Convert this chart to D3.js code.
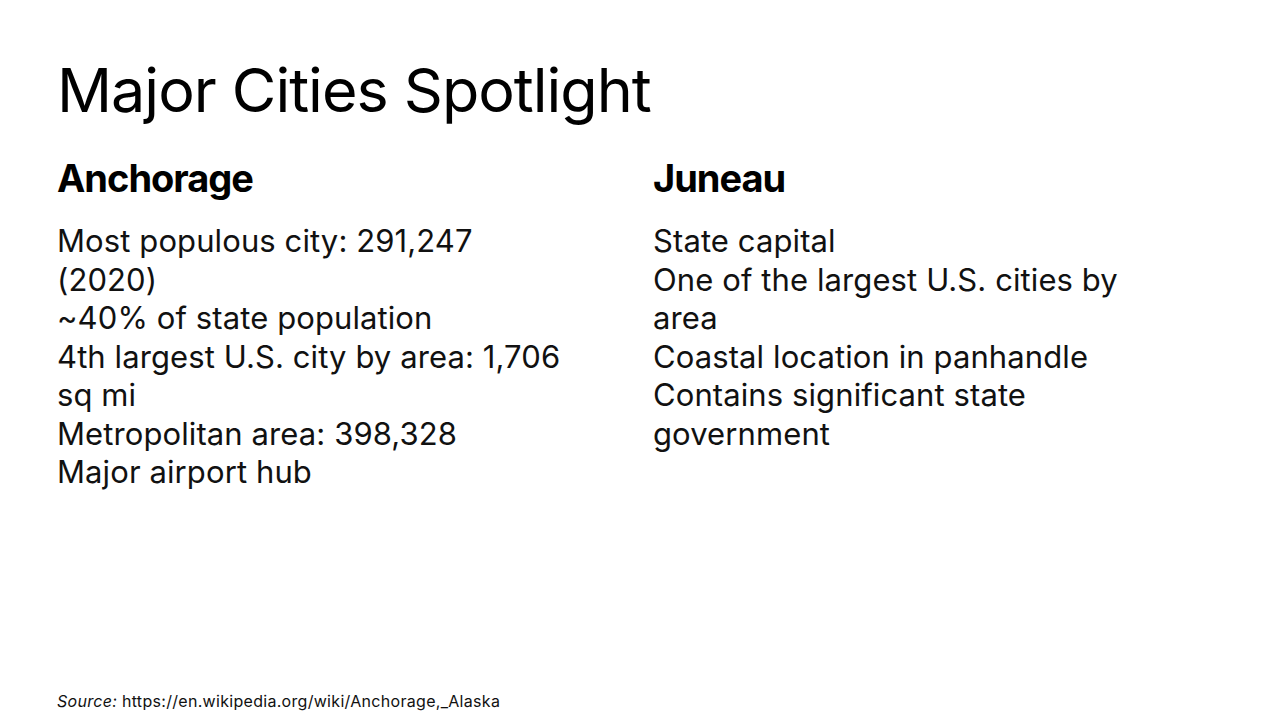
<!DOCTYPE html>
<html><head><meta charset="utf-8">
<script src="https://cdn.jsdelivr.net/npm/d3@7"></script>
<style>body{margin:0;background:#fff}</style></head>
<body><svg id="c" width="1280" height="720"></svg>
<script>
const title = "Major Cities Spotlight";
const headings = ["Anchorage", "Juneau"];
const anchorageLines = ["Most populous city: 291,247", "(2020)", "~40% of state population", "4th largest U.S. city by area: 1,706", "sq mi", "Metropolitan area: 398,328", "Major airport hub"];
const juneauLines = ["State capital", "One of the largest U.S. cities by", "area", "Coastal location in panhandle", "Contains significant state", "government"];
const sourceUrl = "https://en.wikipedia.org/wiki/Anchorage,_Alaska";

const svg = d3.select("#c");
const font = "Inter, 'Open Sans', sans-serif";
svg.append("text").attr("x", 57).attr("y", 112).attr("font-family", font)
  .attr("font-size", 61).attr("letter-spacing", -1).attr("fill", "#000").text(title);

const cols = [57, 653];
const lines = [anchorageLines, juneauLines];
const y = d3.scaleLinear().domain([0, 1]).range([252, 290.5]);
cols.forEach((x, i) => {
  svg.append("text").attr("x", x).attr("y", 192).attr("font-family", font)
    .attr("font-size", 38).attr("font-weight", 700).attr("letter-spacing", -1).text(headings[i]);
  svg.selectAll(null).data(lines[i]).enter().append("text")
    .attr("x", x).attr("y", (d, j) => y(j)).attr("font-family", font)
    .attr("font-size", 31).attr("letter-spacing", 0.1).attr("fill", "#111").text(d => d);
});
const s = svg.append("text").attr("x", 57).attr("y", 707).attr("font-family", font).attr("font-size", 16).attr("letter-spacing", 0.3).attr("fill", "#111");
s.append("tspan").attr("font-style", "italic").text("Source: ");
s.append("tspan").text(sourceUrl);
</script></body></html>
